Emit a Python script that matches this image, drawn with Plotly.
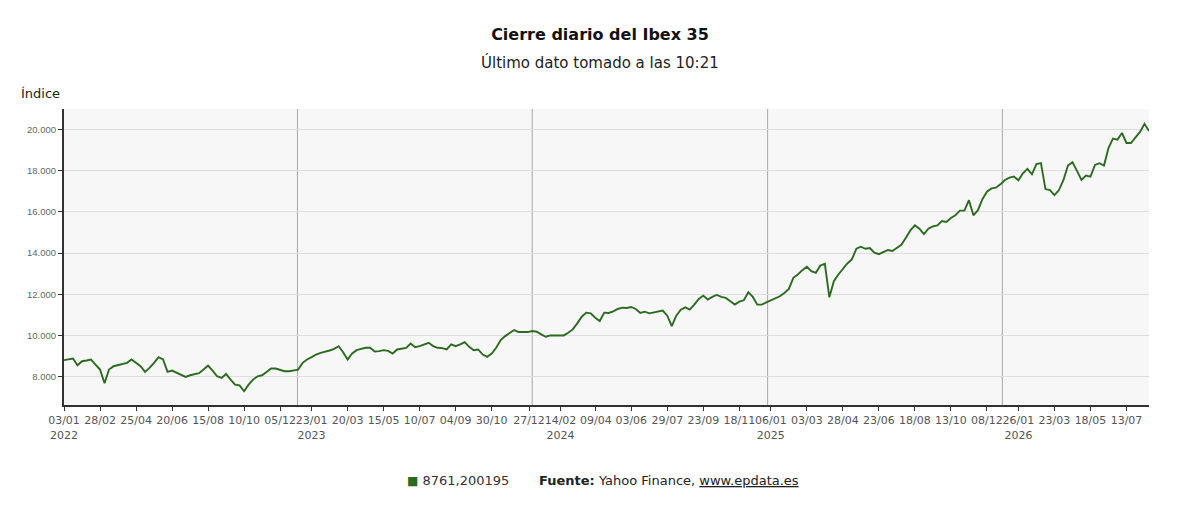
import pandas as pd
import plotly.graph_objects as go

# ---------------- data (weekly closes) ----------------
inicio = "2022-01-03"

cierre_2022 = [8797, 8829, 8878, 8553, 8748, 8780, 8829, 8585, 8341, 7680,
               8341, 8504, 8553, 8618, 8667, 8829, 8667, 8504, 8228, 8423,
               8667, 8943, 8829, 8228, 8293, 8179, 8098, 7984, 8065, 8130,
               8163, 8341, 8537, 8293, 8016, 7935, 8130, 7854, 7610, 7577,
               7290, 7610, 7854, 8016, 8065, 8228, 8390, 8390, 8341, 8260,
               8260, 8293]
cierre_2023 = [8341, 8667, 8829, 8943, 9073, 9154, 9203, 9268, 9350, 9480,
               9187, 8829, 9122, 9285, 9350, 9398, 9398, 9220, 9236, 9285,
               9252, 9122, 9317, 9366, 9398, 9610, 9431, 9480, 9561, 9642,
               9480, 9398, 9382, 9317, 9561, 9480, 9561, 9675, 9447, 9285,
               9317, 9073, 8959, 9122, 9398, 9772, 9967, 10130, 10260, 10163,
               10163, 10163]
cierre_2024 = [10211, 10179, 10049, 9935, 10000, 10000, 9967, 10000, 10130, 10293,
               10585, 10911, 11106, 11073, 10862, 10699, 11106, 11089, 11171, 11285,
               11350, 11333, 11382, 11285, 11089, 11154, 11073, 11122, 11187, 11203,
               10959, 10450, 10959, 11252, 11366, 11252, 11496, 11772, 11935, 11740,
               11870, 11967, 11870, 11821, 11659, 11496, 11642, 11707, 12098, 11870,
               11496, 11496, 11610]
cierre_2025 = [11707, 11805, 11902, 12065, 12260, 12797, 12959, 13171, 13333, 13122,
               13041, 13398, 13480, 11850, 12634, 12959, 13236, 13496, 13691, 14211,
               14309, 14211, 14244, 14016, 13950, 14050, 14150, 14100, 14250, 14400,
               14750, 15102, 15347, 15184, 14922, 15184, 15298, 15347, 15559, 15510,
               15706, 15837, 16065, 16065, 16572, 15837, 16082, 16621, 16980, 17143,
               17176, 17339]
cierre_2026 = [17551, 17666, 17715, 17535, 17878, 18090, 17829, 18319, 18368, 17110,
               17061, 16816, 17061, 17551, 18254, 18417, 17992, 17551, 17764, 17715,
               18286, 18368, 18254, 19103, 19560, 19511, 19838, 19348, 19348, 19593,
               19887, 20279, 19930]

etiquetas_fecha = ["2022-01-03", "2022-02-28", "2022-04-25", "2022-06-20", "2022-08-15",
                   "2022-10-10", "2022-12-05", "2023-01-23", "2023-03-20", "2023-05-15",
                   "2023-07-10", "2023-09-04", "2023-10-30", "2023-12-27", "2024-02-14",
                   "2024-04-09", "2024-06-03", "2024-07-29", "2024-09-23", "2024-11-18",
                   "2025-01-06", "2025-03-03", "2025-04-28", "2025-06-23", "2025-08-18",
                   "2025-10-13", "2025-12-08", "2026-01-26", "2026-03-23", "2026-05-18",
                   "2026-07-13"]
anios_divisoria = [2023, 2024, 2025, 2026]
y_ticks = [8000, 10000, 12000, 14000, 16000, 18000, 20000]
nombre_serie = "8761,200195"

# ---------------- build ----------------
valores = cierre_2022 + cierre_2023 + cierre_2024 + cierre_2025 + cierre_2026
fechas = pd.date_range(inicio, periods=len(valores), freq="7D")

fechas_tick = pd.to_datetime(etiquetas_fecha)
texto_tick = []
anio_prev = None
for f in fechas_tick:
    t = f.strftime("%d/%m")
    if f.year != anio_prev:
        t += "<br>" + str(f.year)
        anio_prev = f.year
    texto_tick.append(t)

W, H = 1200, 515
M_L, M_R, M_T, M_B = 64, 51, 109, 110


def px_x(px):
    return (px - M_L) / (W - M_L - M_R)


def px_y(py):
    return (H - M_B - py) / (H - M_T - M_B)


GREEN = "#2b6b1f"

fig = go.Figure()
fig.add_trace(go.Scatter(x=fechas, y=valores, mode="lines",
                         line=dict(color=GREEN, width=1.9),
                         name=nombre_serie, showlegend=False,
                         hovertemplate="%{x|%d/%m/%Y}: %{y:,.2f}<extra></extra>"))

for a in anios_divisoria:
    fig.add_shape(type="line", xref="x", yref="paper",
                  x0=f"{a}-01-01", x1=f"{a}-01-01", y0=0, y1=1,
                  line=dict(color="#a9a9a9", width=1), layer="below")

fig.update_layout(
    width=W, height=H,
    margin=dict(l=M_L, r=M_R, t=M_T, b=M_B, pad=0),
    paper_bgcolor="white",
    plot_bgcolor="#f7f7f7",
    separators=",.",
    font=dict(family="DejaVu Sans", color="#333"),
    title=dict(text="<b>Cierre diario del Ibex 35</b>", xref="container", x=0.5,
               y=1 - 34 / H, yanchor="middle", xanchor="center",
               font=dict(family="DejaVu Sans", size=16, color="#111")),
    showlegend=False,
    xaxis=dict(type="date", range=[fechas[0], fechas[-1]],
               tickmode="array", tickvals=fechas_tick, ticktext=texto_tick,
               tickangle=0, ticks="outside", ticklen=4, tickcolor="#333",
               showgrid=False, zeroline=False,
               showline=True, linecolor="#333", linewidth=2,
               tickfont=dict(family="DejaVu Sans", size=11, color="#555"),
               automargin=False),
    yaxis=dict(range=[6620, 21000], tickmode="array", tickvals=y_ticks,
               tickformat=",.0f", ticks="outside", ticklen=4, tickcolor="#333",
               showgrid=True, gridcolor="#dedede", gridwidth=1, zeroline=False,
               showline=True, linecolor="#333", linewidth=2,
               tickfont=dict(family="Liberation Sans", size=9.5, color="#666"),
               automargin=False),
)

fig.add_annotation(text="Último dato tomado a las 10:21", xref="paper", yref="paper",
                   x=px_x(600), y=px_y(63), xanchor="center", yanchor="middle",
                   showarrow=False, font=dict(family="DejaVu Sans", size=15, color="#222"))
fig.add_annotation(text="Índice", xref="paper", yref="paper",
                   x=px_x(19), y=px_y(93), xanchor="left", yanchor="middle",
                   showarrow=False, font=dict(family="DejaVu Sans", size=13, color="#222"))
fig.add_annotation(text=f'<span style="color:{GREEN};font-size:12px">■</span> {nombre_serie}',
                   xref="paper", yref="paper",
                   x=px_x(405), y=px_y(480), xanchor="left", yanchor="middle",
                   showarrow=False, font=dict(family="DejaVu Sans", size=13, color="#333"))
fig.add_annotation(text="<b>Fuente:</b> Yahoo Finance, <u>www.epdata.es</u>",
                   xref="paper", yref="paper",
                   x=px_x(537), y=px_y(480), xanchor="left", yanchor="middle",
                   showarrow=False, font=dict(family="DejaVu Sans", size=13, color="#222"))

fig.write_html("out.html", config={"displayModeBar": False},
               post_script="document.body.style.margin='0';document.body.style.overflow='hidden';")
